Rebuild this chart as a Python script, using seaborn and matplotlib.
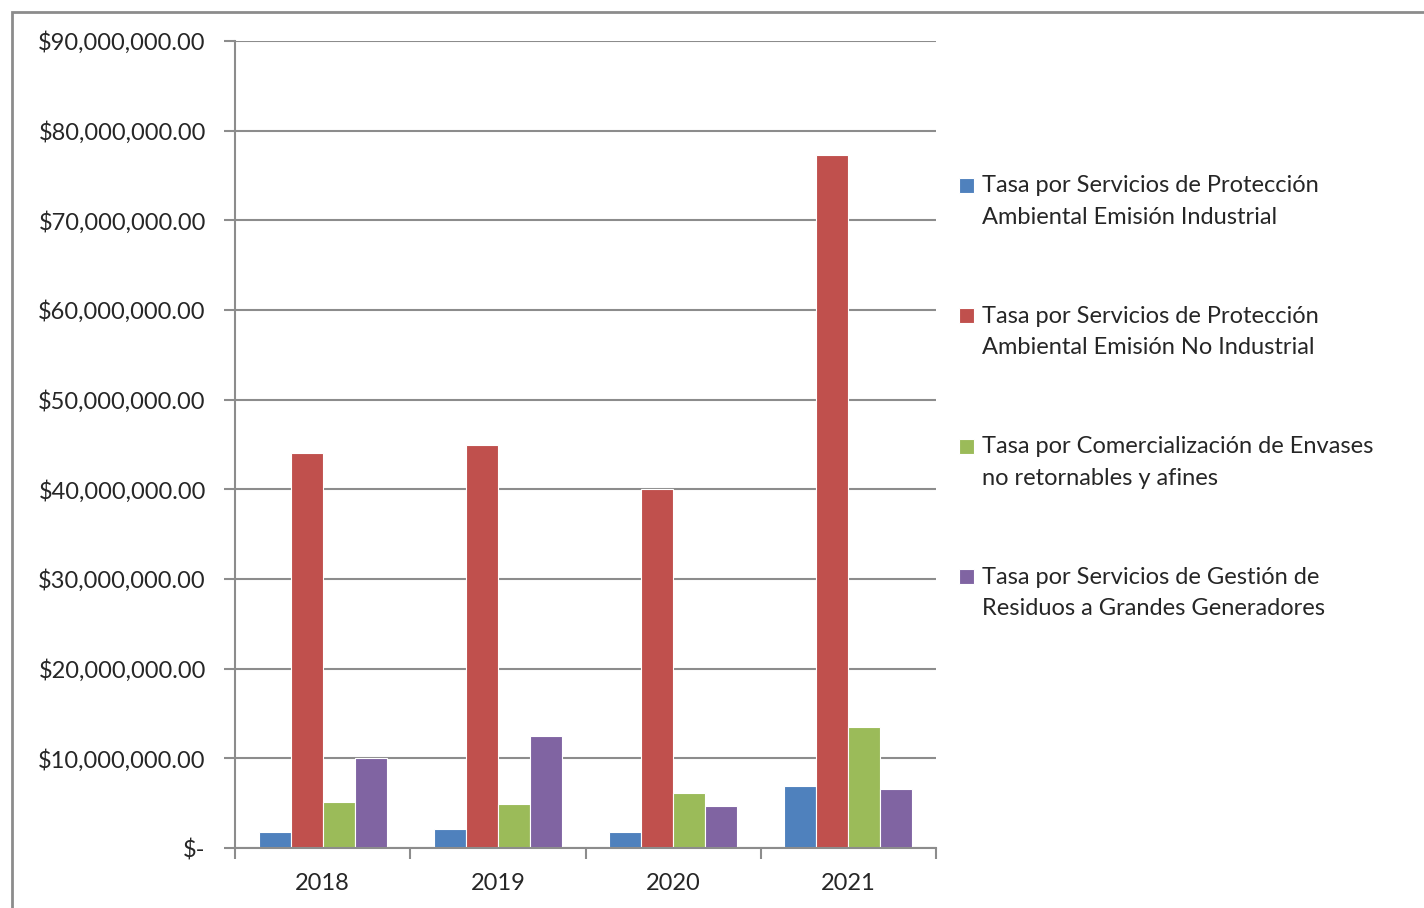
import numpy as np
import pandas as pd
import matplotlib.pyplot as plt
import matplotlib
import seaborn as sns
from matplotlib.ticker import FuncFormatter
from matplotlib.legend_handler import HandlerPatch

years = ['2018', '2019', '2020', '2021']
series = [
    'Tasa por Servicios de Protección\nAmbiental Emisión Industrial',
    'Tasa por Servicios de Protección\nAmbiental Emisión No Industrial',
    'Tasa por Comercialización de Envases\nno retornables y afines',
    'Tasa por Servicios de Gestión de\nResiduos a Grandes Generadores',
]
emision_industrial = [1.8e6, 2.1e6, 1.8e6, 6.9e6]
emision_no_industrial = [44.05e6, 44.9e6, 40.0e6, 77.3e6]
envases = [5.1e6, 4.9e6, 6.1e6, 13.5e6]
residuos = [10.05e6, 12.45e6, 4.7e6, 6.6e6]
colors = ['#4F81BD', '#C0504D', '#9BBB59', '#8064A2']

values = [emision_industrial, emision_no_industrial, envases, residuos]
df = pd.DataFrame({
    'Año': [y for s in series for y in years],
    'Serie': [s for s in series for y in years],
    'Valor': [v for vals in values for v in vals],
})

sns.set_style('white')
plt.rcParams['font.family'] = ['Lato', 'DejaVu Sans']

fig = plt.figure(figsize=(14.24, 9.08), dpi=100)
ax = fig.add_axes([235 / 1424, 1 - 848 / 908, (936 - 235) / 1424, (848 - 41) / 908])

# outer chart frame
fig.patches.append(matplotlib.patches.Rectangle(
    (12 / 1424, -0.1), 1.2, 1.1 - 12 / 908, transform=fig.transFigure,
    fill=False, edgecolor='#8c8c8c', linewidth=2))

sns.barplot(data=df, x='Año', y='Valor', hue='Serie', palette=colors, width=0.73,
            saturation=1, edgecolor='white', linewidth=0.8, ax=ax, legend=True)

ax.set_ylim(0, 90e6)
ax.set_xlim(-0.5, 3.5)
ax.set_yticks(np.arange(0, 90e6 + 1, 10e6))
ax.yaxis.set_major_formatter(FuncFormatter(lambda v, p: '$-' if v == 0 else f'${v:,.2f}'))
ax.yaxis.grid(True, color='#8c8c8c', linewidth=1.5)
ax.set_axisbelow(True)
ax.set_xlabel('')
ax.set_ylabel('')

ax.set_xticks([-0.5, 0.5, 1.5, 2.5, 3.5])
ax.set_xticklabels([])
ax.set_xticks(range(4), minor=True)
ax.set_xticklabels(years, minor=True)
ax.tick_params(axis='x', which='major', direction='out', length=8, width=1.5, color='#8c8c8c', bottom=True)
ax.tick_params(axis='x', which='minor', length=0, labelsize=17, pad=18)
ax.tick_params(axis='y', direction='out', length=8, width=1.5, color='#8c8c8c', left=True,
               labelsize=17, pad=13)

for side in ['top', 'right']:
    ax.spines[side].set_visible(False)
for side in ['left', 'bottom']:
    ax.spines[side].set_color('#8c8c8c')
    ax.spines[side].set_linewidth(1.5)


# legend square sits next to the first line of each label
def top_square(legend, orig_handle, xdescent, ydescent, width, height, fontsize):
    return matplotlib.patches.Rectangle((-xdescent, -ydescent + 12), width, height)


handles, labels = ax.get_legend_handles_labels()
leg = ax.legend(handles, labels, loc='upper left', bbox_to_anchor=(950 / 1424, 1 - 166 / 908),
                bbox_transform=fig.transFigure, frameon=False, fontsize=17,
                handlelength=0.6, handleheight=0.6, handletextpad=0.35, labelspacing=3.3,
                borderaxespad=0,
                handler_map={matplotlib.patches.Rectangle: HandlerPatch(patch_func=top_square)})
for t in leg.get_texts():
    t.set_linespacing(1.62)

fig.savefig('out.png', dpi=100)
